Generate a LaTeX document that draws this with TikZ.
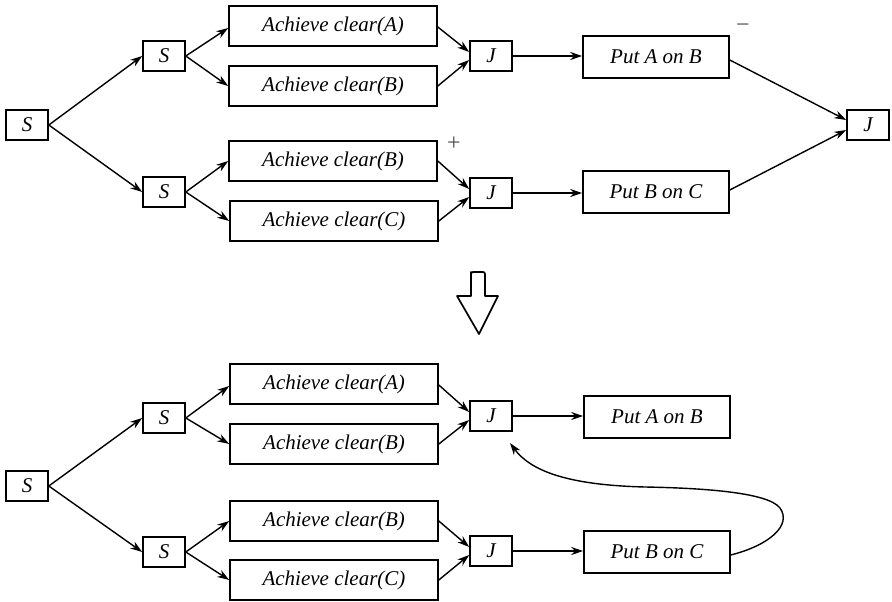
\documentclass[tikz,border=0pt]{standalone}
\usepackage{fontspec}
\setmainfont{Liberation Serif}
\usetikzlibrary{arrows.meta,calc}
\tikzset{
  box/.style={draw,line width=1.6pt,inner sep=0pt,font=\fontsize{21}{24}\selectfont\itshape},
  sbox/.style={box,minimum width=42pt,minimum height=30pt},
  abox/.style={box,minimum width=208pt,minimum height=40pt},
  pbox/.style={box,minimum width=146pt,minimum height=42pt},
  conn/.style={line width=1.4pt,-{Stealth[length=12pt,width=8pt]}},
  sign/.style={font=\fontsize{24}{26}\selectfont,text=black!70}
}
\begin{document}
\begin{tikzpicture}[x=1pt,y=-1pt]
\useasboundingbox (0,0) rectangle (892,602);
% ---------- top ----------
\node[sbox] (s0) at (27,125) {S};
\node[sbox] (s1) at (164,56) {S};
\node[sbox] (s2) at (164,192) {S};
\node[abox] (a1) at (333,26) {Achieve clear(A)};
\node[abox] (a2) at (333,86) {Achieve clear(B)};
\node[abox] (a3) at (333,161) {Achieve clear(B)};
\node[abox] (a4) at (334,221) {Achieve clear(C)};
\node[sbox] (j1) at (491,56) {J};
\node[sbox] (j2) at (491,193) {J};
\node[pbox] (p1) at (656,57) {Put A on B};
\node[pbox] (p2) at (656,192) {Put B on C};
\node[sbox] (j3) at (868,125) {J};
\node[sign] (minus) at (743,28) {\textminus};
\node[sign] (plus) at (454,144) {+};
\draw[conn] (s0.east) -- (s1.west);
\draw[conn] (s0.east) -- (s2.west);
\draw[conn] (s1.east) -- ([yshift=-2pt]a1.west);
\draw[conn] (s1.east) -- (a2.west);
\draw[conn] (s2.east) -- (a3.west);
\draw[conn] (s2.east) -- (a4.west);
\draw[conn] ([yshift=-1pt]a1.east) -- ([yshift=4pt]j1.west);
\draw[conn] (a2.east) -- ([yshift=-4pt]j1.west);
\draw[conn] (a3.east) -- ([yshift=4pt]j2.west);
\draw[conn] (a4.east) -- ([yshift=-4pt]j2.west);
\draw[conn] (j1.east) -- (j1.east -| p1.west);
\draw[conn] (j2.east) -- (j2.east -| p2.west);
\draw[conn] ([yshift=-3pt]p1.east) -- ([yshift=5pt]j3.west);
\draw[conn] ([yshift=2pt]p2.east) -- ([yshift=-5pt]j3.west);
% ---------- hollow arrow ----------
\draw[line width=1.7pt,line join=round] (471,274) -- (471,296) -- (457,296) -- (479,334) -- (498,296) -- (485,296) -- (485,274) [rounded corners=2pt] -- (485,272) -- (471,272) -- cycle;
% ---------- bottom ----------
\node[sbox] (t0) at (27,486) {S};
\node[sbox] (t1) at (164,418) {S};
\node[sbox] (t2) at (164,552) {S};
\node[abox] (b1) at (334,384) {Achieve clear(A)};
\node[abox] (b2) at (334,444) {Achieve clear(B)};
\node[abox] (b3) at (334,521) {Achieve clear(B)};
\node[abox] (b4) at (334,580) {Achieve clear(C)};
\node[sbox] (k1) at (491,416) {J};
\node[sbox] (k2) at (491,551) {J};
\node[pbox] (q1) at (657,417) {Put A on B};
\node[pbox] (q2) at (657,552) {Put B on C};
\coordinate (fb) at (510,443);
\draw[conn] (t0.east) -- (t1.west);
\draw[conn] (t0.east) -- (t2.west);
\draw[conn] (t1.east) -- ([yshift=-2pt]b1.west);
\draw[conn] (t1.east) -- (b2.west);
\draw[conn] (t2.east) -- (b3.west);
\draw[conn] (t2.east) -- (b4.west);
\draw[conn] ([yshift=-1pt]b1.east) -- ([yshift=4pt]k1.west);
\draw[conn] (b2.east) -- ([yshift=-4pt]k1.west);
\draw[conn] (b3.east) -- ([yshift=4pt]k2.west);
\draw[conn] (b4.east) -- ([yshift=-4pt]k2.west);
\draw[conn] (k1.east) -- (k1.east -| q1.west);
\draw[conn] (k2.east) -- (k2.east -| q2.west);
\draw[conn] ([yshift=-3pt]q2.east) .. controls (770,545) and (792,525) .. (780,508)
  .. controls (768,492) and (700,488) .. (645,487)
  .. controls (565,485) and (530,470) .. (fb);
\end{tikzpicture}
\end{document}
